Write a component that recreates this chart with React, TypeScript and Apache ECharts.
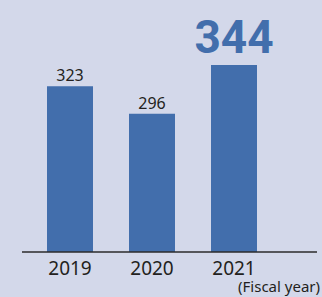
import React, { useEffect, useRef } from "react";
import * as echarts from "echarts";

const categories = ["2019", "2020", "2021"];
const values = [323, 296, 344];
const highlightIndex = 2;
const unitLabel = "(Fiscal year)";

const BAR = "#426eac";
const BG = "#d3d8ea";
const TEXT = "#231f20";

export default function App() {
  const ref = useRef<HTMLDivElement>(null);
  useEffect(() => {
    const chart = echarts.init(ref.current!, null, { renderer: "svg" });
    const data = values.map((v, i) =>
      i === highlightIndex
        ? {
            value: v,
            label: {
              show: true,
              position: "top",
              distance: 5,
              fontSize: 46,
              fontWeight: "bold",
              fontFamily: "Roboto",
              color: BAR,
            },
          }
        : v
    );
    chart.setOption({
      animation: false,
      backgroundColor: BG,
      grid: { left: 29, right: 47, top: 8, bottom: 45 },
      xAxis: {
        type: "category",
        data: categories,
        axisLine: { show: false },
        axisTick: { show: false },
        axisLabel: {
          color: TEXT,
          fontSize: 19,
          fontFamily: "Noto Sans",
          margin: 6,
        },
      },
      yAxis: {
        type: "value",
        min: 160,
        max: 400,
        show: false,
        splitLine: { show: false },
      },
      series: [
        {
          type: "bar",
          data,
          barWidth: 46,
          itemStyle: { color: BAR },
          label: {
            show: true,
            position: "top",
            distance: 3,
            fontSize: 16,
            fontFamily: "Noto Sans",
            color: TEXT,
          },
        },
      ],
      graphic: [
        {
          type: "line",
          shape: { x1: 22, y1: 252, x2: 317, y2: 252 },
          style: { stroke: "#2b2b2b", lineWidth: 1.5 },
          z: 10,
        },
        {
          type: "text",
          right: 2,
          top: 278,
          style: {
            text: unitLabel,
            fontSize: 15,
            fontFamily: "Noto Sans",
            fill: TEXT,
          },
        },
      ],
    });
    return () => chart.dispose();
  }, []);
  return (
    <div
      ref={ref}
      style={{ position: "fixed", left: 0, top: 0, width: 322, height: 297 }}
    />
  );
}
